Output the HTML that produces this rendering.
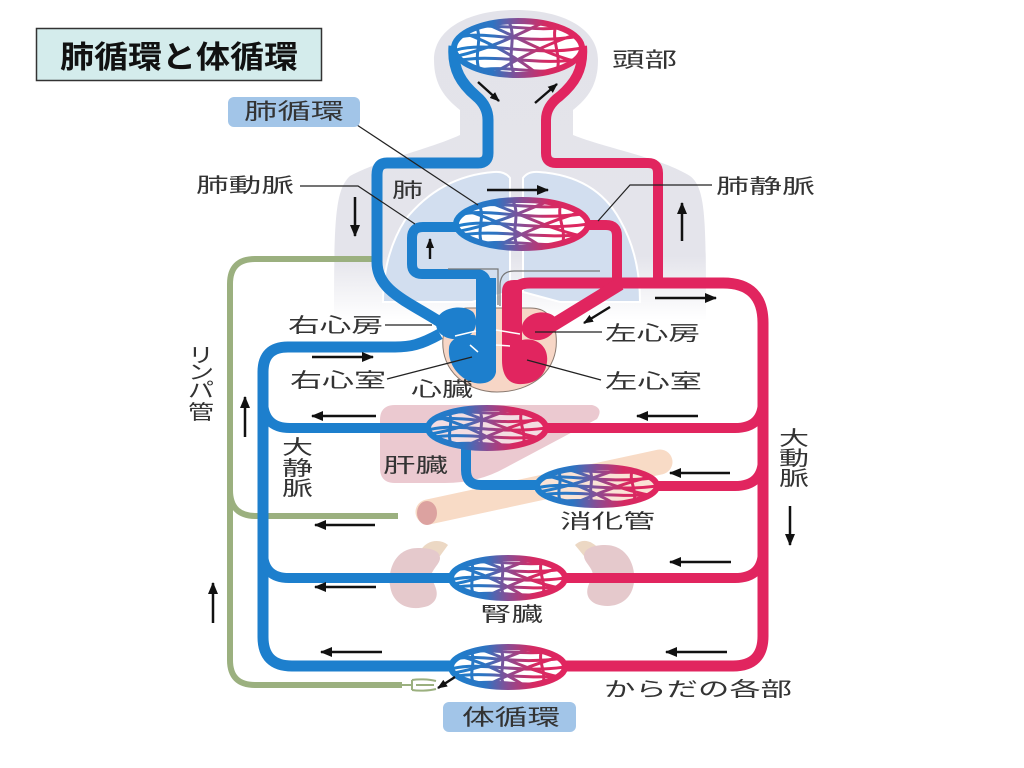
<!DOCTYPE html>
<html><head><meta charset="utf-8"><style>
html,body{margin:0;padding:0;background:#fff;}
svg{display:block;}
text{font-family:"Liberation Sans","Noto Sans CJK JP",sans-serif;fill:#333;}
</style></head><body>
<svg width="1024" height="768" viewBox="0 0 1024 768" xmlns="http://www.w3.org/2000/svg">
<defs>
 <linearGradient id="cg" gradientUnits="userSpaceOnUse" x1="-1" y1="0" x2="1" y2="0">
  <stop offset="0" stop-color="#1d7fcd"/>
  <stop offset="0.3" stop-color="#2d74c2"/>
  <stop offset="0.5" stop-color="#8a4c93"/>
  <stop offset="0.72" stop-color="#d52a62"/>
  <stop offset="1" stop-color="#e1255f"/>
 </linearGradient>
 <linearGradient id="bodyg" gradientUnits="userSpaceOnUse" x1="0" y1="0" x2="0" y2="320">
  <stop offset="0" stop-color="#e3e3ea"/>
  <stop offset="0.8" stop-color="#e4e4eb"/>
  <stop offset="1" stop-color="#ffffff"/>
 </linearGradient>
 <clipPath id="uc" clipPathUnits="userSpaceOnUse"><circle cx="0" cy="0" r="0.96"/></clipPath>
 <g id="mesh">
  <g clip-path="url(#uc)" fill="none" stroke="url(#cg)">
   <path vector-effect="non-scaling-stroke" stroke-width="3" d="M-1,-0.35 C-0.5,-0.75 0,-0.05 1,-0.45"/>
   <path vector-effect="non-scaling-stroke" stroke-width="3" d="M-1,0.1 C-0.5,-0.3 0.2,0.35 1,0"/>
   <path vector-effect="non-scaling-stroke" stroke-width="3" d="M-1,0.5 C-0.4,0.15 0.3,0.7 1,0.4"/>
   <path vector-effect="non-scaling-stroke" stroke-width="3" d="M-0.8,-0.75 C-0.3,-0.95 0.3,-0.55 0.8,-0.8"/>
   <path vector-effect="non-scaling-stroke" stroke-width="3" d="M-0.7,0.85 C-0.2,0.6 0.3,1 0.7,0.8"/>
   <path vector-effect="non-scaling-stroke" stroke-width="3" d="M-0.9,-0.6 C-0.4,-0.2 0,0.4 0.3,0.95"/>
   <path vector-effect="non-scaling-stroke" stroke-width="3" d="M-0.5,-0.9 C0,-0.4 0.4,0.2 0.9,0.5"/>
   <path vector-effect="non-scaling-stroke" stroke-width="3" d="M0.9,-0.5 C0.4,-0.1 0,0.4 -0.4,0.95"/>
   <path vector-effect="non-scaling-stroke" stroke-width="3" d="M0.4,-0.95 C0,-0.5 -0.4,0 -0.95,0.3"/>
   <path vector-effect="non-scaling-stroke" stroke-width="3" d="M-0.15,-1 C0,-0.4 -0.2,0.4 -0.05,1"/>
   <path vector-effect="non-scaling-stroke" stroke-width="3" d="M0.6,-0.9 C0.5,-0.3 0.7,0.3 0.6,0.9"/>
   <path vector-effect="non-scaling-stroke" stroke-width="3" d="M-0.65,-0.8 C-0.55,-0.3 -0.7,0.3 -0.6,0.85"/>
  </g>
  <circle cx="0" cy="0" r="1" fill="none" stroke="url(#cg)" stroke-width="6" vector-effect="non-scaling-stroke"/>
 </g>
 <marker id="ah" viewBox="0 0 12 10" refX="11" refY="5" markerWidth="12" markerHeight="10" markerUnits="userSpaceOnUse" orient="auto">
  <path d="M0,0 L12,5 L0,10 z" fill="#111"/>
 </marker>
 <marker id="ahs" viewBox="0 0 10 8" refX="9" refY="4" markerWidth="10" markerHeight="8" markerUnits="userSpaceOnUse" orient="auto">
  <path d="M0,0 L10,4 L0,8 z" fill="#111"/>
 </marker>
</defs>

<!-- title -->
<rect x="36.5" y="28.5" width="285" height="52" fill="#d4ecec" stroke="#333" stroke-width="1.5"/>
<text x="60" y="68" font-size="31" font-weight="bold" textLength="238" lengthAdjust="spacingAndGlyphs" style="fill:#111">肺循環と体循環</text>

<!-- body silhouette -->
<path d="M516,10 C562,10 598,28 598,60 C598,85 588,98 573,110 L573,135 C605,148 662,158 690,176 C706,188 706,220 706,320 L334,320 C334,220 335,190 350,176 C380,160 432,148 460,135 L460,110 C445,98 434,85 434,60 C434,28 470,10 516,10 Z" fill="url(#bodyg)"/>

<!-- lungs -->
<path d="M510,178 Q505,171 494,172 Q440,176 405,220 Q383,255 383,302 L472,302 L510,292 Z" fill="#d2deef" stroke="#fff" stroke-width="2"/>
<path d="M523,178 Q528,171 539,172 Q596,176 620,220 Q640,255 640,302 L560,302 L523,292 Z" fill="#d2deef" stroke="#fff" stroke-width="2"/>

<!-- liver -->
<path d="M395,405 L592,405 Q604,408 597,419 L505,468 Q478,483 445,483 L395,483 Q380,483 380,468 L380,420 Q380,405 395,405 Z" fill="#ebc9d0"/>
<!-- intestine -->
<line x1="428" y1="512" x2="660" y2="462" stroke="#f8dbc6" stroke-width="25" stroke-linecap="round"/>
<ellipse cx="427" cy="513" rx="10" ry="12" fill="#dca2a0"/>
<!-- kidneys -->
<path d="M420,552 C425,540 440,538 448,545 L440,556 Z" fill="#ecd8c4"/>
<path d="M600,550 C592,540 582,538 575,545 L584,556 Z" fill="#ecd8c4"/>
<path d="M418,548 C395,548 388,570 390,585 C392,605 410,612 428,606 C440,600 438,590 432,580 C428,572 440,565 440,558 C440,550 430,548 418,548 Z" fill="#e5c9cc"/>
<path d="M605,545 C628,545 636,567 634,582 C632,602 614,610 596,604 C584,598 586,588 592,578 C596,570 584,563 584,556 C584,548 594,545 605,545 Z" fill="#e5c9cc"/>

<!-- heart body -->
<path d="M443,338 C440,372 468,392 497,392 C530,392 560,372 556,335 C553,315 545,308 530,308 L468,308 C452,308 445,322 443,338 Z" fill="#f7d6c6" stroke="#8a7a70" stroke-width="1"/>

<!-- lymph -->
<g fill="none" stroke="#9bb07f" stroke-width="6">
 <path d="M372,259 L255,259 Q230,259 230,284 L230,660 Q230,685 255,685 L402,685"/>
 <path d="M230,490 Q230,516 256,516 L398,516"/>
</g>
<path d="M400,685 L412,685 M412,680 C418,679 428,679 436,681 M412,690 C418,691 428,691 436,689 M412,680 L412,690 M416,685 L434,685" stroke="#9bb07f" stroke-width="2" fill="none"/>

<!-- blue vessels -->
<g fill="none" stroke="#1d7fcd" stroke-width="10" stroke-linejoin="round">
 <path d="M454,46 C452,70 462,84 476,96 Q488,106 488,120 L488,153 Q488,163 478,163 L387,163 Q377,163 377,175 L377,262 C377,290 405,300 440,322" stroke-width="11"/>
 <path d="M486,300 L486,284 Q486,274 476,274 L422,274 Q412,274 412,264 L412,238 Q412,227 423,227 L458,227"/>
 <path d="M440,334 C420,345 410,347 395,347 L288,347 Q263,347 263,372 L263,637 Q263,666 292,666 L452,666" stroke-width="11"/>
 <path d="M263,400 Q263,428 290,428 L431,428"/>
 <path d="M466,446 L466,470 Q466,485 481,485 L539,485"/>
 <path d="M263,552 Q263,578 289,578 L452,578"/>
</g>
<!-- red vessels -->
<g fill="none" stroke="#e1255f" stroke-width="10" stroke-linejoin="round">
 <path d="M582,46 C584,70 574,84 560,96 Q546,106 546,120 L546,153 Q546,163 556,163 L648,163 Q658,163 658,173 L658,283"/>
 <path d="M512,345 L512,300 Q512,283 530,283 L723,283 Q763,283 763,323 L763,636 Q763,666 733,666 L565,666" stroke-width="11"/>
 <path d="M545,428 L735,428 Q763,428 763,400"/>
 <path d="M656,486 L735,486 Q763,486 763,458"/>
 <path d="M565,578 L735,578 Q763,578 763,550"/>
 <path d="M588,225 L606,225 Q617,225 617,236 L617,284"/>
 <path d="M620,284 L545,330" stroke-width="13"/>
</g>

<!-- heart chambers -->
<path d="M436,322 C438,308 462,303 473,312 C480,322 475,336 462,339 C447,341 435,334 436,322 Z" fill="#1d7fcd"/>
<path d="M449,348 C450,336 468,333 478,336 L496,336 L496,372 C494,384 478,387 465,379 C452,370 448,358 449,348 Z" fill="#1d7fcd"/>
<rect x="476" y="278" width="20" height="62" fill="#1d7fcd"/>
<path d="M502,292 Q502,280 514,280 L522,280 L522,340 C536,337 549,346 547,362 C545,379 531,385 518,384 C506,383 502,372 502,360 Z" fill="#e1255f"/>
<path d="M522,326 C525,313 545,308 555,317 C560,327 552,338 540,340 C528,341 520,334 522,326 Z" fill="#e1255f"/>
<path d="M455,336 L476,331 M496,330 L520,334 M496,345 L510,346 M470,345 L478,352" stroke="#fff" stroke-width="1.5" fill="none"/>
<path d="M448,269 L498,269 L498,305 M500,306 L500,286 Q500,271 514,271 L600,271" stroke="#777" stroke-width="1.2" fill="none"/>

<!-- capillaries -->
<ellipse cx="518" cy="48" rx="64" ry="27" fill="#fff"/>
<use href="#mesh" transform="translate(518,48) scale(64,27)"/>
<ellipse cx="522" cy="224" rx="66" ry="24" fill="#fff"/>
<use href="#mesh" transform="translate(522,224) scale(66,24)"/>
<ellipse cx="487" cy="428" rx="59" ry="20" fill="#f3dde2"/>
<use href="#mesh" transform="translate(487,428) scale(59,20)"/>
<ellipse cx="597" cy="486" rx="60" ry="19" fill="#fae3d6"/>
<use href="#mesh" transform="translate(597,486) scale(60,19)"/>
<ellipse cx="508" cy="578" rx="57" ry="20" fill="#fff"/>
<use href="#mesh" transform="translate(508,578) scale(57,20)"/>
<ellipse cx="508" cy="667" rx="57" ry="20" fill="#fff"/>
<use href="#mesh" transform="translate(508,667) scale(57,20)"/>

<!-- arrows -->
<g stroke="#111" stroke-width="2.5" fill="none" marker-end="url(#ah)">
 <line x1="487" y1="190" x2="548" y2="190"/>
 <line x1="355" y1="197" x2="355" y2="236"/>
 <line x1="682" y1="241" x2="682" y2="203"/>
 <line x1="655" y1="298" x2="716" y2="298"/>
 <line x1="312" y1="357" x2="373" y2="357"/>
 <line x1="376" y1="416" x2="312" y2="416"/>
 <line x1="698" y1="416" x2="637" y2="416"/>
 <line x1="245" y1="437" x2="245" y2="397"/>
 <line x1="730" y1="473" x2="670" y2="473"/>
 <line x1="375" y1="525" x2="315" y2="525"/>
 <line x1="790" y1="506" x2="790" y2="545"/>
 <line x1="731" y1="562" x2="670" y2="562"/>
 <line x1="376" y1="587" x2="315" y2="587"/>
 <line x1="213" y1="623" x2="213" y2="583"/>
 <line x1="382" y1="652" x2="321" y2="652"/>
 <line x1="727" y1="652" x2="666" y2="652"/>
</g>
<g stroke="#111" stroke-width="2.4" fill="none" marker-end="url(#ahs)">
 <line x1="478" y1="82" x2="499" y2="101"/>
 <line x1="535" y1="103" x2="557" y2="84"/>
 <line x1="430" y1="259" x2="430" y2="239"/>
 <line x1="610" y1="307" x2="584" y2="323"/>
 <line x1="455" y1="677" x2="438" y2="688"/>
</g>

<!-- leader lines -->
<g stroke="#222" stroke-width="1.2" fill="none">
 <line x1="357" y1="125" x2="478" y2="205"/>
 <polyline points="300,186 358,186 415,224"/>
 <polyline points="598,221 630,185 712,185"/>
 <line x1="385" y1="325" x2="432" y2="325"/>
 <line x1="535" y1="332" x2="602" y2="332"/>
 <line x1="387" y1="379" x2="472" y2="357"/>
 <line x1="527" y1="360" x2="601" y2="380"/>
</g>

<!-- label boxes -->
<rect x="228" y="97" width="132" height="30" rx="6" fill="#a2c5e8"/>
<rect x="443" y="702" width="133" height="30" rx="6" fill="#a2c5e8"/>

<!-- labels -->
<g font-size="21">
 <text x="612" y="67" textLength="65" lengthAdjust="spacingAndGlyphs">頭部</text>
 <text x="244" y="119" font-size="22" textLength="100" lengthAdjust="spacingAndGlyphs">肺循環</text>
 <text x="196" y="192" font-size="20" textLength="98" lengthAdjust="spacingAndGlyphs">肺動脈</text>
 <text x="392" y="197" font-size="20" textLength="31" lengthAdjust="spacingAndGlyphs">肺</text>
 <text x="716" y="193" font-size="20" textLength="99" lengthAdjust="spacingAndGlyphs">肺静脈</text>
 <text x="288" y="332" font-size="20" textLength="95" lengthAdjust="spacingAndGlyphs">右心房</text>
 <text x="605" y="340" font-size="20" textLength="95" lengthAdjust="spacingAndGlyphs">左心房</text>
 <text x="290" y="387" font-size="20" textLength="96" lengthAdjust="spacingAndGlyphs">右心室</text>
 <text x="605" y="388" font-size="20" textLength="97" lengthAdjust="spacingAndGlyphs">左心室</text>
 <text x="411" y="396" font-size="20" textLength="62" lengthAdjust="spacingAndGlyphs">心臓</text>
 <text x="383" y="472" font-size="20" textLength="65" lengthAdjust="spacingAndGlyphs">肝臓</text>
 <text x="560" y="528" font-size="20" textLength="95" lengthAdjust="spacingAndGlyphs">消化管</text>
 <text x="480" y="621" font-size="20" textLength="63" lengthAdjust="spacingAndGlyphs">腎臓</text>
 <text x="604" y="696" font-size="20" textLength="188" lengthAdjust="spacingAndGlyphs">からだの各部</text>
 <text x="462" y="725" font-size="22" textLength="98" lengthAdjust="spacingAndGlyphs">体循環</text>
 <!-- vertical labels -->
 <text x="282" y="454" font-size="20" textLength="31" lengthAdjust="spacingAndGlyphs">大</text>
 <text x="282" y="475" font-size="20" textLength="31" lengthAdjust="spacingAndGlyphs">静</text>
 <text x="282" y="495" font-size="20" textLength="31" lengthAdjust="spacingAndGlyphs">脈</text>
 <text x="779" y="445" font-size="20" textLength="30" lengthAdjust="spacingAndGlyphs">大</text>
 <text x="779" y="465" font-size="20" textLength="30" lengthAdjust="spacingAndGlyphs">動</text>
 <text x="779" y="485" font-size="20" textLength="30" lengthAdjust="spacingAndGlyphs">脈</text>
 <text x="188" y="362" font-size="20" textLength="26" lengthAdjust="spacingAndGlyphs">リ</text>
 <text x="188" y="379" font-size="20" textLength="26" lengthAdjust="spacingAndGlyphs">ン</text>
 <text x="188" y="397" font-size="20" textLength="26" lengthAdjust="spacingAndGlyphs">パ</text>
 <text x="188" y="419" font-size="20" textLength="26" lengthAdjust="spacingAndGlyphs">管</text>
</g>
</svg>
</body></html>
